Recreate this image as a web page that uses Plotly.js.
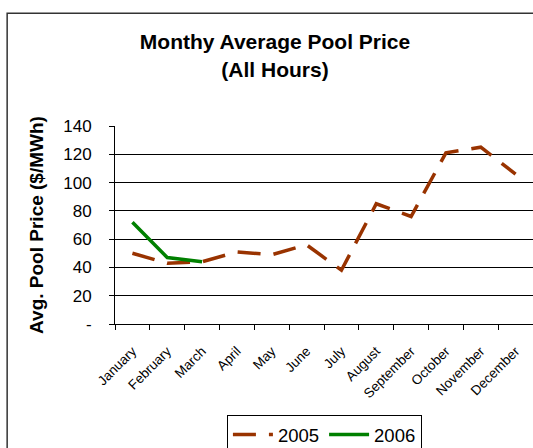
<!DOCTYPE html>
<html>
<head>
<meta charset="utf-8">
<script src="https://cdn.plot.ly/plotly-3.0.1.min.js"></script>
<style>html,body{margin:0;padding:0;background:#fff;}#chart{width:533px;height:448px;}</style>
</head>
<body>
<div id="chart"></div>
<script>
const months = ["January","February","March","April","May","June","July","August","September","October","November","December"];
const price2005 = [50, 43, 44, 51, 49, 56, 38, 85, 76, 121, 125, 106];
const months2006 = ["January","February","March"];
const price2006 = [72, 47, 44];
const yTickVals = [0, 20, 40, 60, 80, 100, 120, 140];
const yTickText = ["-", "20", "40", "60", "80", "100", "120", "140"];

const font = "Liberation Sans, Arial, sans-serif";
const traces = [
  {x: months, y: price2005, name: "2005", type: "scatter", mode: "lines",
   line: {color: "#993300", width: 3.5, dash: "23px,13px"}},
  {x: months2006, y: price2006, name: "2006", type: "scatter", mode: "lines",
   line: {color: "#008000", width: 3.5}}
];
const layout = {
  width: 533, height: 448,
  margin: {l: 115, r: 0, t: 126, b: 124, autoexpand: false},
  paper_bgcolor: "#fff", plot_bgcolor: "#fff",
  font: {family: font, color: "#000"},
  showlegend: true,
  title: {text: "<b>Monthy Average Pool Price<br>(All Hours)</b>", font: {size: 21, family: font, color: "#000"},
          x: 0.516, xanchor: "center", y: 0.89, yanchor: "top", yref: "container"},
  xaxis: {type: "category", categoryorder: "array", categoryarray: months, automargin: false,
          range: [-0.5, 11.5], tickson: "boundaries", ticks: "outside", ticklen: 5, tickcolor: "#000",
          showline: true, linecolor: "#000", linewidth: 1, showgrid: false, zeroline: false,
          tickangle: -45, ticklabelstandoff: 13, tickfont: {size: 13.5, family: font, color: "#000"}},
  yaxis: {range: [0, 140], tickvals: yTickVals, ticktext: yTickText, ticks: "outside", ticklen: 5, tickcolor: "#000",
          showline: true, linecolor: "#000", linewidth: 1, showgrid: true, gridcolor: "#000", gridwidth: 1,
          zeroline: false, ticklabelstandoff: 14, automargin: false,
          tickfont: {size: 17, family: font, color: "#000"},
          title: {text: "<b>Avg. Pool Price ($/MWh)</b>", font: {size: 19, family: font, color: "#000"}, standoff: 14}},
  legend: {orientation: "h", x: 0.501, xanchor: "center", y: -0.46, yanchor: "top", itemwidth: 40,
           bordercolor: "#000", borderwidth: 1, font: {size: 18.5, family: font, color: "#000"}},
  shapes: [{type: "rect", xref: "paper", yref: "paper", x0: -0.258, x1: 1.2, y0: -1, y1: 1.57,
            line: {color: "#333", width: 1.5}, fillcolor: "rgba(0,0,0,0)", layer: "below"}]
};
Plotly.newPlot("chart", traces, layout, {displayModeBar: false, staticPlot: true});
</script>
</body>
</html>
